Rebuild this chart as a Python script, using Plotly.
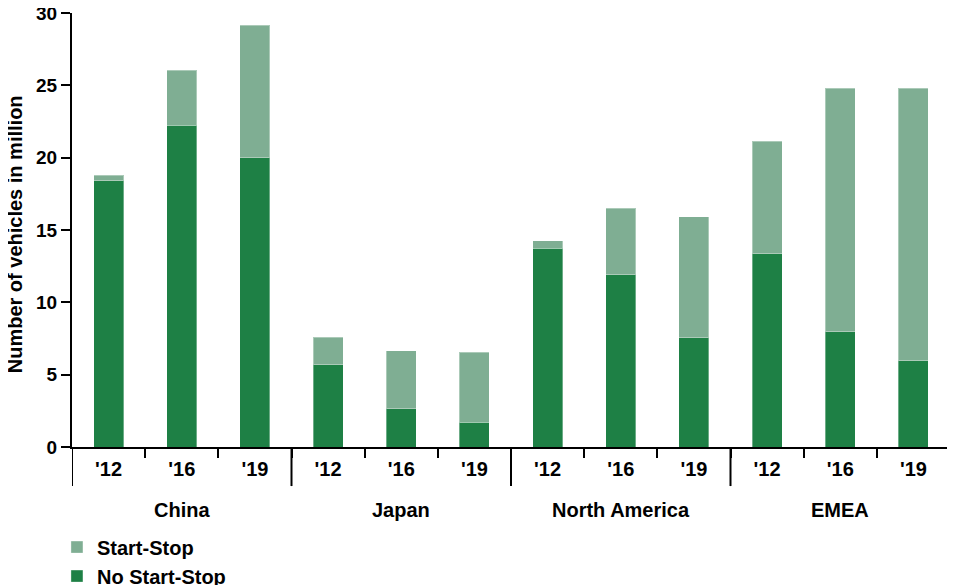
import plotly.graph_objects as go

regions = ["China"] * 3 + ["Japan"] * 3 + ["North America"] * 3 + ["EMEA"] * 3
years = ["'12", "'16", "'19"] * 4
no_start_stop = [18.4, 22.25, 20.0, 5.7, 2.65, 1.7, 13.75, 11.9, 7.55, 13.35, 7.95, 5.95]
start_stop = [0.4, 3.8, 9.15, 1.9, 4.0, 4.85, 0.5, 4.6, 8.35, 7.8, 16.85, 18.85]
y_ticks = [0, 5, 10, 15, 20, 25, 30]

DARK = "#1e8045"
LIGHT = "#7fae93"
FONT = "Liberation Sans"

pos = list(range(len(years)))

# group boundaries and centres derived from the region list
groups = []
for i, r in enumerate(regions):
    if not groups or groups[-1][0] != r:
        groups.append([r, i, i])
    else:
        groups[-1][2] = i

fig = go.Figure()
edge = dict(color="rgba(255,255,255,0.35)", width=1)
fig.add_trace(go.Bar(x=pos, y=no_start_stop, name="<b>No Start-Stop</b>",
                     marker=dict(color=DARK, line=edge), width=0.41))
fig.add_trace(go.Bar(x=pos, y=start_stop, name="<b>Start-Stop</b>",
                     marker=dict(color=LIGHT, line=edge), width=0.41))

shapes = []
annotations = []
bounds = [g[1] - 0.5 for g in groups] + [groups[-1][2] + 0.5]
for b in bounds:
    shapes.append(dict(type="line", xref="x", yref="paper", x0=b, x1=b, y0=0, y1=-0.09,
                       line=dict(color="black", width=2)))
for name, a, z in groups:
    annotations.append(dict(xref="x", yref="paper", x=(a + z) / 2, y=-0.145,
                            text=f"<b>{name}</b>", showarrow=False,
                            font=dict(family=FONT, size=20, color="black"),
                            xanchor="center", yanchor="middle"))
annotations.append(dict(xref="paper", yref="paper", x=-0.065, y=0.49,
                        text="<b>Number of vehicles in million</b>", textangle=-90,
                        showarrow=False, font=dict(family=FONT, size=20, color="black"),
                        xanchor="center", yanchor="middle"))

# the page body adds an 8px offset, so the figure is 8px smaller on each axis
fig.update_layout(
    barmode="stack",
    width=947, height=577,
    margin=dict(l=64, r=5, t=5, b=138, autoexpand=False),
    paper_bgcolor="white", plot_bgcolor="white",
    font=dict(family=FONT, size=19, color="black"),
    showlegend=True,
    legend=dict(
        orientation="v", xref="container", yref="container",
        x=0.0517, xanchor="left", y=0.0995, yanchor="top",
        traceorder="reversed", font=dict(size=20, family=FONT),
        tracegroupgap=0, bgcolor="rgba(0,0,0,0)",
    ),
    shapes=shapes,
    annotations=annotations,
)
fig.update_xaxes(
    range=[-0.5, len(years) - 0.5],
    tickvals=pos, ticktext=[f"<b>{y}</b>" for y in years],
    showline=True, linecolor="black", linewidth=2,
    ticks="outside", ticklen=3, tickcolor="rgba(0,0,0,0)",
    minor=dict(tickvals=[p + 0.5 for p in pos[:-1]], ticks="outside", ticklen=9,
               tickwidth=2, tickcolor="black", showgrid=False),
    showgrid=False, zeroline=False, automargin=False,
    tickfont=dict(family=FONT, size=20),
)
fig.update_yaxes(
    range=[0, 30], tickvals=y_ticks, ticktext=[f"<b>{v}</b>" for v in y_ticks],
    showline=True, linecolor="black", linewidth=2,
    ticks="outside", ticklen=9, tickwidth=2, tickcolor="black",
    showgrid=False, zeroline=False, automargin=False,
    ticklabeloverflow="allow",
    tickfont=dict(family=FONT, size=19),
)

fig.write_html("out.html")
